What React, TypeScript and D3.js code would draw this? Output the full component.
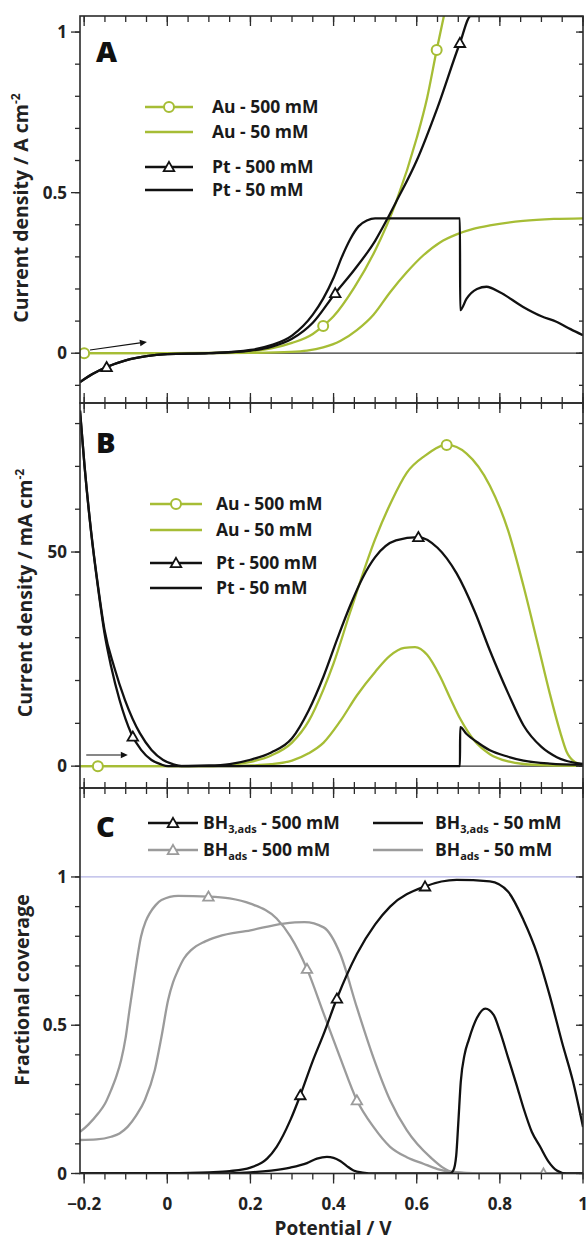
import React from 'react';
import * as d3 from 'd3';

type P = [number, number];

// ---------- Data ----------
// Panel A: current density / A cm^-2
const auA500: P[] = [[-0.21,0],[0,0],[0.1,0.001],[0.2,0.006],[0.25,0.015],[0.3,0.032],[0.35,0.06],[0.375,0.085],[0.4,0.115],[0.45,0.205],[0.5,0.32],[0.55,0.47],[0.6,0.67],[0.625,0.795],[0.648,0.944],[0.667,1.06]];
const auA50: P[] = [[-0.21,0],[0.1,0],[0.2,0.001],[0.296,0.004],[0.336,0.008],[0.375,0.018],[0.416,0.038],[0.456,0.072],[0.496,0.12],[0.536,0.19],[0.576,0.252],[0.616,0.305],[0.656,0.345],[0.696,0.37],[0.736,0.387],[0.776,0.398],[0.856,0.412],[0.93,0.418],[1.0,0.42]];
const ptA500: P[] = [[-0.21,-0.09],[-0.18,-0.065],[-0.146,-0.043],[-0.1,-0.022],[-0.05,-0.009],[0,-0.003],[0.1,0],[0.2,0.008],[0.25,0.02],[0.3,0.045],[0.35,0.095],[0.404,0.187],[0.45,0.26],[0.5,0.35],[0.53,0.42],[0.55,0.47],[0.6,0.6],[0.65,0.765],[0.704,0.966],[0.73,1.05],[1.0,1.05]];
const ptA50: P[] = [[-0.21,-0.09],[-0.18,-0.065],[-0.146,-0.043],[-0.1,-0.022],[-0.05,-0.009],[0,-0.003],[0.1,0],[0.2,0.01],[0.25,0.025],[0.3,0.055],[0.35,0.12],[0.375,0.17],[0.4,0.235],[0.42,0.3],[0.44,0.355],[0.46,0.395],[0.48,0.413],[0.5,0.42],[0.704,0.42],[0.7045,0.134],[0.72,0.17],[0.745,0.2],[0.768,0.207],[0.8,0.19],[0.856,0.144],[0.9,0.115],[0.936,0.098],[0.97,0.075],[1.0,0.056]];
const auA500Markers: P[] = [[-0.2,0],[0.375,0.085],[0.648,0.944]];
const ptA500Markers: P[] = [[-0.146,-0.043],[0.404,0.187],[0.704,0.966]];
const arrowA: P[] = [[-0.186,0.01],[-0.049,0.035]];

// Panel B: current density / mA cm^-2
const auB500: P[] = [[-0.21,0],[0.1,0],[0.15,0.3],[0.2,1],[0.25,2.5],[0.3,5.5],[0.34,10.5],[0.376,18],[0.4,24],[0.44,36],[0.5,53],[0.54,62],[0.576,68.5],[0.62,72.5],[0.672,75],[0.72,73],[0.776,65.5],[0.82,55],[0.857,42],[0.89,29],[0.92,17],[0.945,8],[0.96,3.5],[0.98,1],[1.0,0.3]];
const auB50: P[] = [[-0.21,0],[0.15,0],[0.2,0.15],[0.25,0.45],[0.3,1.3],[0.34,3],[0.376,5.5],[0.416,10.5],[0.456,16.5],[0.5,22],[0.536,25.8],[0.57,27.6],[0.596,27.8],[0.625,26],[0.656,21],[0.68,16],[0.705,11],[0.74,5.8],[0.776,2.8],[0.82,1.1],[0.857,0.5],[0.92,0.2],[1.0,0.1]];
const ptB500: P[] = [[-0.21,83],[-0.199,70],[-0.183,54.4],[-0.167,41.9],[-0.151,31],[-0.135,23.2],[-0.115,15.5],[-0.087,7.7],[-0.063,3.8],[-0.038,1.45],[-0.015,0.4],[0.002,0],[0.1,0.15],[0.15,0.5],[0.2,1.5],[0.25,3.2],[0.3,6.5],[0.34,13],[0.376,21],[0.41,30],[0.44,37.5],[0.47,44],[0.5,48.8],[0.55,52.7],[0.604,53.5],[0.65,51],[0.696,45],[0.74,36],[0.776,27],[0.82,17],[0.857,9.5],[0.9,4.5],[0.937,2.1],[1.0,0.5]];
const ptB50: P[] = [[-0.21,83],[-0.199,70],[-0.183,54.6],[-0.167,42.3],[-0.151,31.8],[-0.128,23.2],[-0.102,15.5],[-0.066,7.7],[-0.038,3.8],[-0.01,1.45],[0.015,0.4],[0.034,0],[0.704,0],[0.7045,9.1],[0.72,7.5],[0.75,5.3],[0.776,3.7],[0.82,2.2],[0.857,1.3],[0.92,0.6],[1.0,0.3]];
const auB500Markers: P[] = [[-0.167,0],[0.672,75]];
const ptB500Markers: P[] = [[-0.083,6.9],[0.604,53.5]];
const arrowB: P[] = [[-0.195,2.6],[-0.095,2.6]];

// Panel C: fractional coverage
const bh3C500: P[] = [[-0.21,0],[0,0.001],[0.1,0.004],[0.15,0.008],[0.2,0.02],[0.24,0.05],[0.263,0.09],[0.296,0.18],[0.32,0.264],[0.35,0.38],[0.376,0.47],[0.408,0.59],[0.456,0.74],[0.5,0.84],[0.536,0.9],[0.62,0.968],[0.696,0.99],[0.776,0.985],[0.82,0.95],[0.857,0.854],[0.89,0.74],[0.92,0.6],[0.95,0.44],[0.976,0.31],[1.0,0.157]];
const bh3C50: P[] = [[-0.21,0],[0.1,0],[0.2,0.004],[0.25,0.01],[0.296,0.02],[0.336,0.035],[0.36,0.05],[0.384,0.056],[0.4,0.053],[0.416,0.042],[0.432,0.025],[0.448,0.01],[0.47,0.003],[0.5,0],[0.68,0],[0.688,0.01],[0.695,0.06],[0.7,0.17],[0.706,0.31],[0.715,0.4],[0.725,0.45],[0.745,0.525],[0.765,0.556],[0.785,0.535],[0.8,0.48],[0.82,0.39],[0.84,0.3],[0.857,0.22],[0.877,0.14],[0.897,0.09],[0.917,0.04],[0.937,0.01],[0.96,0],[1.0,0]];
const bhC500: P[] = [[-0.21,0.14],[-0.19,0.165],[-0.166,0.203],[-0.15,0.235],[-0.135,0.282],[-0.122,0.33],[-0.111,0.383],[-0.1,0.46],[-0.091,0.551],[-0.079,0.664],[-0.063,0.8],[-0.052,0.85],[-0.042,0.878],[-0.028,0.905],[-0.014,0.922],[0.026,0.936],[0.099,0.934],[0.15,0.928],[0.2,0.91],[0.263,0.86],[0.296,0.8],[0.336,0.69],[0.376,0.54],[0.416,0.39],[0.456,0.247],[0.496,0.157],[0.536,0.09],[0.576,0.055],[0.616,0.033],[0.65,0.015],[0.69,0.004],[0.75,0],[1.0,0]];
const bhC50: P[] = [[-0.21,0.113],[-0.17,0.115],[-0.135,0.124],[-0.115,0.135],[-0.095,0.158],[-0.075,0.195],[-0.054,0.248],[-0.03,0.349],[-0.014,0.461],[0.002,0.585],[0.014,0.645],[0.026,0.686],[0.04,0.725],[0.058,0.754],[0.09,0.782],[0.122,0.799],[0.2,0.82],[0.28,0.843],[0.33,0.848],[0.376,0.83],[0.416,0.74],[0.456,0.56],[0.496,0.39],[0.536,0.247],[0.576,0.146],[0.632,0.056],[0.688,0.005],[0.75,0],[1.0,0]];
const bh3C500Markers: P[] = [[0.32,0.264],[0.408,0.59],[0.62,0.968]];
const bhC500Markers: P[] = [[0.099,0.934],[0.336,0.69],[0.456,0.247],[0.905,0]];

// Axis ticks and labels
const xDomain: P = [-0.21, 1.0];
const xMajor = [-0.2, 0, 0.2, 0.4, 0.6, 0.8, 1.0];
const xLabels = ['−0.2', '0', '0.2', '0.4', '0.6', '0.8', '1'];
const xMinor = d3.range(-0.2, 1.0001, 0.05);

const aDomain: P = [-0.155, 1.05];
const aMajor = [0, 0.5, 1];
const aLabels = ['0', '0.5', '1'];
const aMinor = d3.range(-0.1, 1.0001, 0.1);

const bDomain: P = [-5.1, 84.8];
const bMajor = [0, 50];
const bLabels = ['0', '50'];
const bMinor = d3.range(0, 80.001, 10);

const cDomain: P = [0, 1.3];
const cMajor = [0, 0.5, 1];
const cLabels = ['0', '0.5', '1'];
const cMinor = d3.range(0, 1.0001, 0.1);

// ---------- Styling ----------
const GREEN = '#a6bd35';
const GRAY = '#9b9b9b';
const BLACK = '#111111';
const AXIS = '#2b2b2b';
const FONT = '"Open Sans", "DejaVu Sans", sans-serif';

const L = 80, R = 583;
const x = d3.scaleLinear().domain(xDomain).range([L, R]);

const line = (y: d3.ScaleLinear<number, number>) =>
  d3.line<P>().x(d => x(d[0])).y(d => y(d[1])).curve(d3.curveMonotoneX);

const triPath = d3.symbol(d3.symbolTriangle, 48)()!;

function Tri({ cx, cy, color }: { cx: number; cy: number; color: string }) {
  return <path d={triPath} transform={`translate(${cx},${cy + 1})`} fill="#fff" stroke={color} strokeWidth={1.8} />;
}
function Circ({ cx, cy, color }: { cx: number; cy: number; color: string }) {
  return <circle cx={cx} cy={cy} r={5} fill="#fff" stroke={color} strokeWidth={2} />;
}

interface PanelProps {
  id: string;
  top: number;
  bottom: number;
  domain: P;
  major: number[];
  labels: string[];
  minor: number[];
  bottomOutward: boolean;
  children: (y: d3.ScaleLinear<number, number>) => React.ReactNode;
}

function Panel({ id, top, bottom, domain, major, labels, minor, bottomOutward, children }: PanelProps) {
  const y = d3.scaleLinear().domain(domain).range([bottom, top]);
  const ticks: React.ReactNode[] = [];
  minor.forEach((v, i) => {
    const yy = y(v);
    ticks.push(<line key={`lm${i}`} x1={L - 5} x2={L} y1={yy} y2={yy} />);
    ticks.push(<line key={`rm${i}`} x1={R - 4} x2={R} y1={yy} y2={yy} />);
  });
  major.forEach((v, i) => {
    const yy = y(v);
    ticks.push(<line key={`lM${i}`} x1={L - 9} x2={L} y1={yy} y2={yy} />);
    ticks.push(<line key={`rM${i}`} x1={R - 7} x2={R} y1={yy} y2={yy} />);
  });
  xMinor.forEach((v, i) => {
    const xx = x(v);
    ticks.push(<line key={`tm${i}`} x1={xx} x2={xx} y1={top} y2={top + 6} />);
    ticks.push(<line key={`bm${i}`} x1={xx} x2={xx} y1={bottom} y2={bottomOutward ? bottom + 6 : bottom - 6} />);
  });
  xMajor.forEach((v, i) => {
    const xx = x(v);
    ticks.push(<line key={`tM${i}`} x1={xx} x2={xx} y1={top} y2={top + 10} />);
    ticks.push(<line key={`bM${i}`} x1={xx} x2={xx} y1={bottom} y2={bottomOutward ? bottom + 10 : bottom - 10} />);
  });
  return (
    <g>
      <defs>
        <clipPath id={`clip-${id}`}>
          <rect x={L} y={top} width={R - L} height={bottom - top} />
        </clipPath>
      </defs>
      <g clipPath={`url(#clip-${id})`}>{children(y)}</g>
      <rect x={L} y={top} width={R - L} height={bottom - top} fill="none" stroke={AXIS} strokeWidth={1.6} />
      <g stroke={AXIS} strokeWidth={1.3}>{ticks}</g>
      <g fontFamily={FONT} fontWeight={700} fontSize={17} fill="#222" textAnchor="end">
        {major.map((v, i) => (
          <text key={i} x={L - 13} y={y(v)} dy="0.36em">{labels[i]}</text>
        ))}
      </g>
    </g>
  );
}

function Legend({ x1, x2, tx, rows }: { x1: number; x2: number; tx: number; rows: { y: number; color: string; marker: string | null; label: string }[] }) {
  return (
    <g>
      {rows.map((r, i) => (
        <g key={i}>
          <line x1={x1} x2={x2} y1={r.y} y2={r.y} stroke={r.color} strokeWidth={2.4} />
          {r.marker === 'circle' && <Circ cx={(x1 + x2) / 2} cy={r.y} color={r.color} />}
          {r.marker === 'tri' && <Tri cx={(x1 + x2) / 2} cy={r.y} color={r.color} />}
          <text x={tx} y={r.y} dy="0.36em" fontFamily={FONT} fontWeight={700} fontSize={17.5} fill="#1a1a1a">{r.label}</text>
        </g>
      ))}
    </g>
  );
}

function Arrow({ pts, y }: { pts: P[]; y: d3.ScaleLinear<number, number> }) {
  const [a, b] = pts;
  const x1 = x(a[0]), y1 = y(a[1]), x2 = x(b[0]), y2 = y(b[1]);
  const ang = Math.atan2(y2 - y1, x2 - x1);
  const hl = 7, hw = 3.2;
  const bx = x2 - hl * Math.cos(ang), by = y2 - hl * Math.sin(ang);
  const px = -Math.sin(ang) * hw, py = Math.cos(ang) * hw;
  return (
    <g>
      <line x1={x1} y1={y1} x2={bx} y2={by} stroke={BLACK} strokeWidth={1.2} />
      <polygon points={`${x2},${y2} ${bx + px},${by + py} ${bx - px},${by - py}`} fill={BLACK} />
    </g>
  );
}

export default function App() {
  const lw = 2.3;
  return (
    <svg width={587} height={1241} style={{ position: 'absolute', left: 0, top: 0, background: '#fff' }}>
      <rect x={0} y={0} width={587} height={1241} fill="#fff" />
      {/* Panel A */}
      <Panel id="a" top={16} bottom={403} domain={aDomain} major={aMajor} labels={aLabels} minor={aMinor} bottomOutward={false}>
        {(y) => (
          <g fill="none">
            <line x1={L} x2={R} y1={y(0)} y2={y(0)} stroke="#333" strokeWidth={1.2} />
            <path d={line(y)(auA50)!} stroke={GREEN} strokeWidth={lw} />
            <path d={line(y)(auA500)!} stroke={GREEN} strokeWidth={lw} />
            <path d={line(y)(ptA50)!} stroke={BLACK} strokeWidth={lw} />
            <path d={line(y)(ptA500)!} stroke={BLACK} strokeWidth={lw} />
            {auA500Markers.map((d, i) => <Circ key={`c${i}`} cx={x(d[0])} cy={y(d[1])} color={GREEN} />)}
            {ptA500Markers.map((d, i) => <Tri key={`t${i}`} cx={x(d[0])} cy={y(d[1])} color={BLACK} />)}
            <Arrow pts={arrowA} y={y} />
          </g>
        )}
      </Panel>
      {/* Panel B */}
      <Panel id="b" top={403} bottom={788} domain={bDomain} major={bMajor} labels={bLabels} minor={bMinor} bottomOutward={false}>
        {(y) => (
          <g fill="none">
            <line x1={L} x2={R} y1={y(0)} y2={y(0)} stroke="#333" strokeWidth={1.2} />
            <path d={line(y)(auB50)!} stroke={GREEN} strokeWidth={lw} />
            <path d={line(y)(auB500)!} stroke={GREEN} strokeWidth={lw} />
            <path d={line(y)(ptB50)!} stroke={BLACK} strokeWidth={lw} />
            <path d={line(y)(ptB500)!} stroke={BLACK} strokeWidth={lw} />
            {auB500Markers.map((d, i) => <Circ key={`c${i}`} cx={x(d[0])} cy={y(d[1])} color={GREEN} />)}
            {ptB500Markers.map((d, i) => <Tri key={`t${i}`} cx={x(d[0])} cy={y(d[1])} color={BLACK} />)}
            <Arrow pts={arrowB} y={y} />
          </g>
        )}
      </Panel>
      {/* Panel C */}
      <Panel id="c" top={788} bottom={1173.5} domain={cDomain} major={cMajor} labels={cLabels} minor={cMinor} bottomOutward={true}>
        {(y) => (
          <g fill="none">
            <line x1={L} x2={R} y1={y(1)} y2={y(1)} stroke="#b4b4e6" strokeWidth={1.2} />
            <path d={line(y)(bhC50)!} stroke={GRAY} strokeWidth={lw} />
            <path d={line(y)(bhC500)!} stroke={GRAY} strokeWidth={lw} />
            <path d={line(y)(bh3C50)!} stroke={BLACK} strokeWidth={lw} />
            <path d={line(y)(bh3C500)!} stroke={BLACK} strokeWidth={lw} />
            {bhC500Markers.map((d, i) => <Tri key={`g${i}`} cx={x(d[0])} cy={y(d[1])} color={GRAY} />)}
            {bh3C500Markers.map((d, i) => <Tri key={`t${i}`} cx={x(d[0])} cy={y(d[1])} color={BLACK} />)}
          </g>
        )}
      </Panel>

      {/* Panel letters */}
      <g fontFamily={FONT} fontWeight={800} fontSize={29} fill="#111">
        <text x={96} y={62}>A</text>
        <text x={96} y={453}>B</text>
        <text x={96} y={837}>C</text>
      </g>

      {/* Legends */}
      <Legend x1={145} x2={193} tx={212} rows={[
        { y: 107, color: GREEN, marker: 'circle', label: 'Au - 500 mM' },
        { y: 132, color: GREEN, marker: null, label: 'Au - 50 mM' },
        { y: 167, color: BLACK, marker: 'tri', label: 'Pt - 500 mM' },
        { y: 190, color: BLACK, marker: null, label: 'Pt - 50 mM' },
      ]} />
      <Legend x1={150} x2={202} tx={216} rows={[
        { y: 504, color: GREEN, marker: 'circle', label: 'Au - 500 mM' },
        { y: 530, color: GREEN, marker: null, label: 'Au - 50 mM' },
        { y: 563, color: BLACK, marker: 'tri', label: 'Pt - 500 mM' },
        { y: 588, color: BLACK, marker: null, label: 'Pt - 50 mM' },
      ]} />
      <g>
        <line x1={148} x2={198} y1={823} y2={823} stroke={BLACK} strokeWidth={2.4} />
        <Tri cx={173} cy={823} color={BLACK} />
        <line x1={148} x2={198} y1={850} y2={850} stroke={GRAY} strokeWidth={2.4} />
        <Tri cx={173} cy={850} color={GRAY} />
        <line x1={373} x2={423} y1={823} y2={823} stroke={BLACK} strokeWidth={2.4} />
        <line x1={373} x2={423} y1={850} y2={850} stroke={GRAY} strokeWidth={2.4} />
        <g fontFamily={FONT} fontWeight={700} fontSize={17.5} fill="#1a1a1a" style={{ whiteSpace: 'pre' }}>
          <text x={203} y={823} dy="0.36em">BH<tspan fontSize={11} dy={4}>3,ads</tspan><tspan dy={-4}> - 500 mM</tspan></text>
          <text x={203} y={850} dy="0.36em">BH<tspan fontSize={11} dy={4}>ads</tspan><tspan dy={-4}>  -  500 mM</tspan></text>
          <text x={435} y={823} dy="0.36em">BH<tspan fontSize={11} dy={4}>3,ads</tspan><tspan dy={-4}> - 50 mM</tspan></text>
          <text x={435} y={850} dy="0.36em">BH<tspan fontSize={11} dy={4}>ads</tspan><tspan dy={-4}>  -  50 mM</tspan></text>
        </g>
      </g>

      {/* X axis labels */}
      <g fontFamily={FONT} fontWeight={700} fontSize={17} fill="#222" textAnchor="middle">
        {xMajor.map((v, i) => (
          <text key={i} x={x(v)} y={1210}>{xLabels[i]}</text>
        ))}
      </g>
      <text x={333} y={1235} textAnchor="middle" fontFamily={FONT} fontWeight={700} fontSize={19} fill="#222">Potential / V</text>

      {/* Y axis titles */}
      <g fontFamily={FONT} fontWeight={700} fontSize={19.5} fill="#222" textAnchor="middle">
        <text transform="translate(28,208) rotate(-90)">Current density / A cm<tspan fontSize={12} dy={-8}>-2</tspan></text>
        <text transform="translate(32,593) rotate(-90)">Current density / mA cm<tspan fontSize={12} dy={-8}>-2</tspan></text>
        <text transform="translate(29,990) rotate(-90)">Fractional coverage</text>
      </g>
    </svg>
  );
}
